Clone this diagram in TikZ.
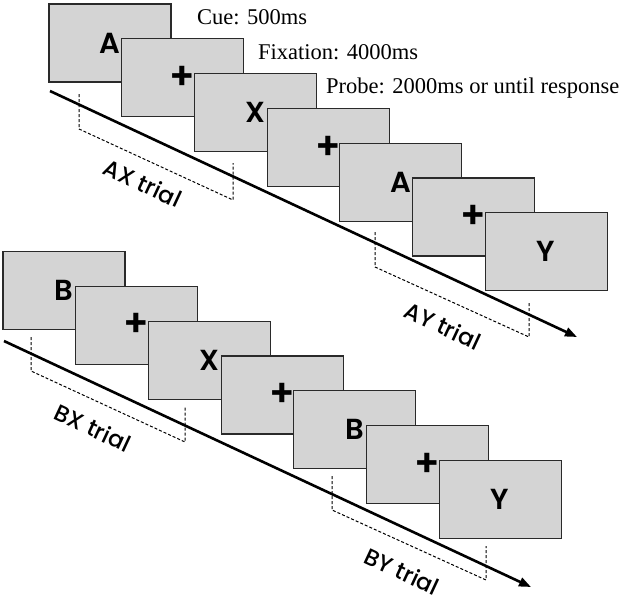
\documentclass[tikz,border=0pt]{standalone}
\usepackage{fontspec}
\setmainfont{Liberation Serif}
\newfontfamily\geo{Poppins Medium}
\newfontfamily\geobox{Poppins SemiBold}
\usetikzlibrary{arrows.meta}
\definecolor{boxgray}{HTML}{D4D4D4}
\definecolor{edgegray}{HTML}{2A2A2A}
\newcommand{\crossmark}{{\fontsize{38}{38}\selectfont +}}
\begin{document}
\begin{tikzpicture}[x=1pt,y=-1pt,
  screen/.style={draw=edgegray, fill=boxgray, line width=1.2pt, minimum width=122pt, minimum height=78pt, inner sep=0pt, font=\geobox\fontsize{29}{29}\selectfont},
  timeline/.style={line width=2.6pt, -{Triangle[length=12pt,width=9pt]}},
  bracket/.style={dash pattern=on 3pt off 2pt, line width=1pt},
  triallabel/.style={font=\geo\fontsize{23}{23}\selectfont, rotate=-25, inner sep=0pt},
  timing/.style={font=\fontsize{22.5}{22.5}\selectfont, anchor=base west, inner sep=0pt}]
\useasboundingbox (0,0) rectangle (625,600);
% top row
\coordinate (ts) at (50,91);
\coordinate (te) at (577,337);
\draw[timeline] (ts) -- (te);
\foreach \i/\l in {0/A,1/\crossmark,2/X,3/\crossmark,4/A,5/\crossmark,6/Y}
  \node[screen] (t\i) at ({110+72.7*\i},{43+34.8*\i}) {\l};
% bottom row
\coordinate (bs) at (4,341);
\coordinate (be) at (531,587);
\draw[timeline] (bs) -- (be);
\foreach \i/\l in {0/B,1/\crossmark,2/X,3/\crossmark,4/B,5/\crossmark,6/Y}
  \node[screen] (b\i) at ({64+72.7*\i},{290.5+34.8*\i}) {\l};
% brackets
\coordinate (ax1) at (79,94); \coordinate (ax2) at (79,129); \coordinate (ax3) at (233,200); \coordinate (ax4) at (233,163);
\draw[bracket] (ax1) -- (ax2) -- (ax3) -- (ax4);
\coordinate (ay1) at (375,232); \coordinate (ay2) at (375,267); \coordinate (ay3) at (529,337); \coordinate (ay4) at (529,303);
\draw[bracket] (ay1) -- (ay2) -- (ay3) -- (ay4);
\coordinate (bx1) at (31,337); \coordinate (bx2) at (31,371); \coordinate (bx3) at (185,442); \coordinate (bx4) at (185,407);
\draw[bracket] (bx1) -- (bx2) -- (bx3) -- (bx4);
\coordinate (by1) at (332,476); \coordinate (by2) at (332,510); \coordinate (by3) at (486,580); \coordinate (by4) at (486,546);
\draw[bracket] (by1) -- (by2) -- (by3) -- (by4);
% trial labels
\node[triallabel] (axl) at (143,183) {AX trial};
\node[triallabel] (ayl) at (443,326) {AY trial};
\node[triallabel] (bxl) at (93,428) {BX trial};
\node[triallabel] (byl) at (402,571) {BY trial};
% timing texts
\node[timing] (cue) at (197,24) {Cue: 500ms};
\node[timing] (fix) at (258,59) {Fixation: 4000ms};
\node[timing] (probe) at (326,93) {Probe: 2000ms or until response};
\end{tikzpicture}
\end{document}
